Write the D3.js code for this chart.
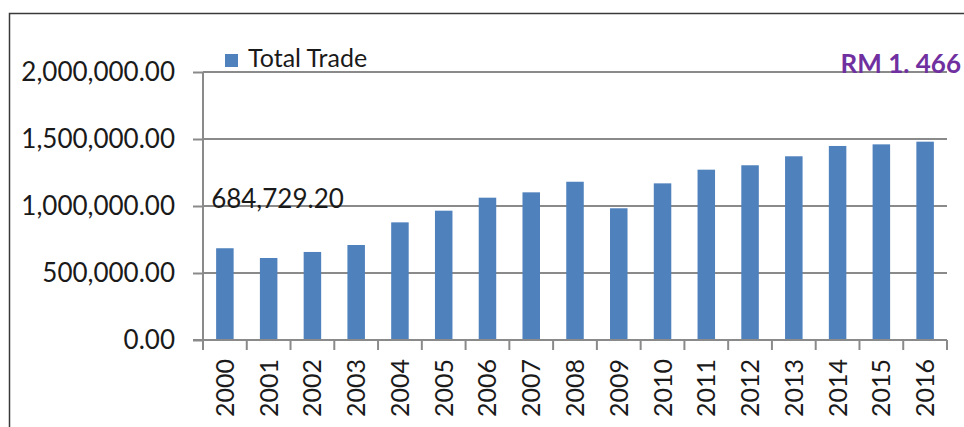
<!DOCTYPE html>
<html>
<head>
<meta charset="utf-8">
<script src="https://cdnjs.cloudflare.com/ajax/libs/d3/7.8.5/d3.min.js"></script>
<style>
  body { margin: 0; background: #fff; }
  text { font-family: Lato, "Open Sans", sans-serif; fill: #1a1a1a; }
</style>
</head>
<body>
<div id="chart"></div>
<script>
// Data
const years = ["2000", "2001", "2002", "2003", "2004", "2005", "2006", "2007", "2008",
  "2009", "2010", "2011", "2012", "2013", "2014", "2015", "2016"];
const totalTrade = [684729.2, 612000, 657000, 709000, 878000, 965000, 1062000, 1102000, 1181000,
  983000, 1169000, 1271000, 1304000, 1371000, 1448000, 1460000, 1480000];
const yTicks = [0, 500000, 1000000, 1500000, 2000000];
const seriesName = "Total Trade";
const note = "RM 1. 466";

const width = 964;
const height = 427;
const margin = { top: 72, right: 17, bottom: 87, left: 203 };
const innerWidth = width - margin.left - margin.right;
const innerHeight = height - margin.top - margin.bottom;

const svg = d3.select("#chart")
  .append("svg")
  .attr("width", width)
  .attr("height", height);

// outer frame (top and left edges visible)
svg.append("path")
  .attr("d", `M9.5,${height} V13.5 H${width}`)
  .attr("fill", "none")
  .attr("stroke", "#3a3a3a")
  .attr("stroke-width", 1.5);

const chart = svg.append("g")
  .attr("transform", `translate(${margin.left}, ${margin.top})`);

const x = d3.scaleBand()
  .domain(years)
  .range([0, innerWidth])
  .paddingInner(0.6)
  .paddingOuter(0.3);

const y = d3.scaleLinear()
  .domain([0, 2000000])
  .range([innerHeight, 0]);

const fmt = d3.format(",.2f");

// gridlines
chart.append("g")
  .selectAll("line")
  .data(yTicks.slice(1))
  .enter()
  .append("line")
  .attr("x1", 0)
  .attr("x2", innerWidth)
  .attr("y1", d => y(d))
  .attr("y2", d => y(d))
  .attr("stroke", "#8a8a8a")
  .attr("stroke-width", 2);

// bars
chart.selectAll(".bar")
  .data(totalTrade)
  .enter()
  .append("rect")
  .attr("class", "bar")
  .attr("x", (d, i) => x(years[i]))
  .attr("y", d => y(d))
  .attr("width", x.bandwidth())
  .attr("height", d => innerHeight - y(d))
  .attr("fill", "#4f81bd");

// y axis
const yAxis = chart.append("g")
  .call(d3.axisLeft(y).tickValues(yTicks).tickFormat(fmt).tickSize(10).tickPadding(18));
yAxis.selectAll("line, path").attr("stroke", "#8a8a8a").attr("stroke-width", 2);
yAxis.select(".domain").attr("d", `M0,0V${innerHeight}`);
yAxis.selectAll("text")
  .style("font-size", "26px")
  .attr("fill", "#1a1a1a");

// x axis: ticks at band boundaries
const xAxisG = chart.append("g")
  .attr("transform", `translate(0, ${innerHeight})`);
xAxisG.append("line")
  .attr("x1", -10).attr("x2", innerWidth)
  .attr("stroke", "#8a8a8a").attr("stroke-width", 2);
const step = x.step();
const edges = years.map(d => x(d) + x.bandwidth() / 2 - step / 2).concat([innerWidth]);
xAxisG.selectAll(".xtick")
  .data(edges)
  .enter()
  .append("line")
  .attr("x1", d => d).attr("x2", d => d)
  .attr("y1", 0).attr("y2", 10)
  .attr("stroke", "#8a8a8a").attr("stroke-width", 2);
xAxisG.selectAll(".xlabel")
  .data(years)
  .enter()
  .append("text")
  .attr("transform", d => `translate(${x(d) + x.bandwidth() / 2}, 19) rotate(-90)`)
  .attr("text-anchor", "end")
  .attr("dy", "0.36em")
  .style("font-size", "25px")
  .text(d => d);

// data label for the first bar
chart.append("text")
  .attr("x", x(years[0]) - 5)
  .attr("y", y(totalTrade[0]) - 40)
  .style("font-size", "26px")
  .text(fmt(totalTrade[0]));

// legend
const legend = svg.append("g")
  .attr("transform", "translate(225, 54)");
legend.append("rect")
  .attr("width", 13).attr("height", 13)
  .attr("fill", "#4f81bd");
legend.append("text")
  .attr("x", 23).attr("y", 13)
  .style("font-size", "25px")
  .text(seriesName);

// note in purple
svg.append("text")
  .attr("x", 961)
  .attr("y", 73)
  .attr("text-anchor", "end")
  .style("font-size", "26px")
  .style("font-weight", "bold")
  .style("fill", "#7030a0")
  .text(note);
</script>
</body>
</html>
